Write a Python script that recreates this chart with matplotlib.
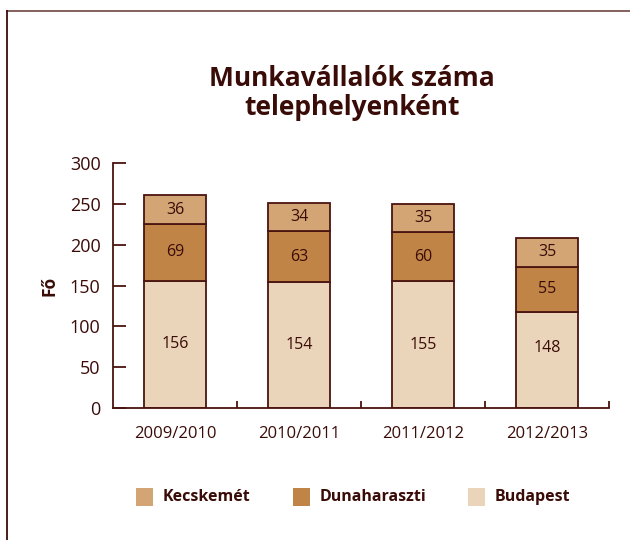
import matplotlib
matplotlib.use("Agg")
import matplotlib.pyplot as plt
from matplotlib.patches import Rectangle
from matplotlib.lines import Line2D

years = ["2009/2010", "2010/2011", "2011/2012", "2012/2013"]
budapest = [156, 154, 155, 118]
budapest_labels = [156, 154, 155, 148]
dunaharaszti = [69, 63, 60, 55]
kecskemet = [36, 34, 35, 35]

c_kecs = "#d3a574"
c_duna = "#c08446"
c_buda = "#ead5bb"
dark = "#4a1410"
txt = "#3a0c08"

plt.rcParams["font.family"] = ["Open Sans", "DejaVu Sans"]

fig = plt.figure(figsize=(6.3, 5.4), dpi=100)
ax = fig.add_axes([0.1794, 0.2444, 0.7873, 0.4537])

x = range(len(years))
w = 0.5
b2 = [b + d for b, d in zip(budapest, dunaharaszti)]
ax.bar(x, budapest, w, color=c_buda, edgecolor=dark, linewidth=1.3)
ax.bar(x, dunaharaszti, w, bottom=budapest, color=c_duna, edgecolor=dark, linewidth=1.3)
ax.bar(x, kecskemet, w, bottom=b2, color=c_kecs, edgecolor=dark, linewidth=1.3)

for i in x:
    ax.text(i, budapest_labels[i] / 2, str(budapest_labels[i]), ha="center", va="center", fontsize=11.5, color=txt)
    ax.text(i, budapest[i] + dunaharaszti[i] / 2, str(dunaharaszti[i]), ha="center", va="center", fontsize=11.5, color=txt)
    ax.text(i, b2[i] + kecskemet[i] / 2, str(kecskemet[i]), ha="center", va="center", fontsize=11.5, color=txt)

ax.set_xlim(-0.5, 3.5)
ax.set_ylim(0, 300)
ax.set_yticks(range(0, 301, 50))
ax.tick_params(axis="y", direction="in", length=9, width=1.3, color=dark, labelsize=13, labelcolor=txt, pad=9)
ax.set_xticks(x)
ax.set_xticklabels(years)
ax.tick_params(axis="x", length=0, labelsize=12, labelcolor=txt, pad=13)
ax.set_xticks([0.5, 1.5, 2.5, 3.5], minor=True)
ax.tick_params(axis="x", which="minor", direction="in", length=5, width=1.3, color=dark)
for s in ["top", "right"]:
    ax.spines[s].set_visible(False)
for s in ["left", "bottom"]:
    ax.spines[s].set_color(dark)
    ax.spines[s].set_linewidth(1.3)
ax.set_ylabel("Fő", fontsize=12.5, fontweight="bold", color=txt, labelpad=8)

fig.text(352 / 630, 1 - 93 / 540, "Munkavállalók száma\ntelephelyenként", ha="center", va="center",
         fontsize=19, fontweight="bold", color=txt, linespacing=1.05)

# legend drawn by hand
names = ["Kecskemét", "Dunaharaszti", "Budapest"]
cols = [c_kecs, c_duna, c_buda]
sq_x = [136, 293, 468]
for n, c, px in zip(names, cols, sq_x):
    fig.add_artist(Rectangle((px / 630, 1 - 506 / 540), 17 / 630, 18 / 540, transform=fig.transFigure,
                             facecolor=c, edgecolor="none"))
    fig.text((px + 27) / 630, 1 - 497 / 540, n, ha="left", va="center", fontsize=11.5,
             fontweight="bold", color=txt)

# frame
fig.add_artist(Line2D([7 / 630, 1], [1 - 11 / 540, 1 - 11 / 540], transform=fig.transFigure, color="#7a5550", lw=1.3))
fig.add_artist(Line2D([7 / 630, 7 / 630], [0, 1 - 11 / 540], transform=fig.transFigure, color="#3a0c08", lw=1.3))

fig.savefig("out.png", dpi=100)
